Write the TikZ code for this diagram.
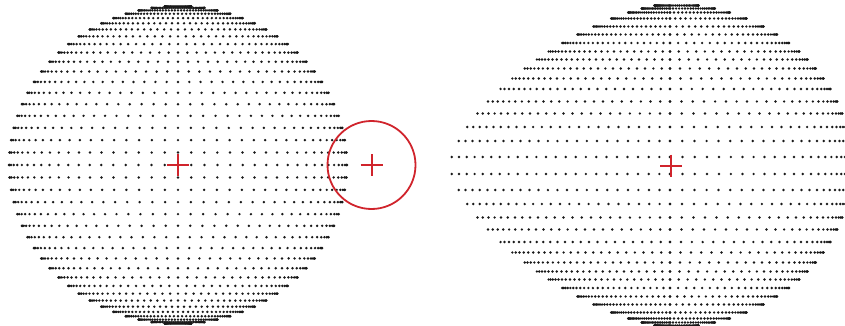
\documentclass[tikz,border=0pt]{standalone}
\usepackage{tikz}

\definecolor{markred}{RGB}{208,36,44}
\tikzset{
    dot/.style={fill=black!90},
    cross/.style={draw=markred, line width=2pt},
}

\begin{document}
\begin{tikzpicture}[x=1pt, y=-1pt]
\useasboundingbox (0,0) rectangle (845,326);
\clip (0,0) rectangle (845,326);

\coordinate (lc) at (178,165);
\coordinate (hole) at (371.5,165);
\coordinate (rc) at (671,165.5);

\begin{scope}[shift={(178,165)}]

    \foreach \k in {-19,...,19} {
        \pgfmathsetmacro\rowy{-159*sin(4.5*\k)}
        \pgfmathsetmacro\roww{169*cos(4.5*\k)}
        \foreach \j in {-20,...,20}
            \fill[dot] ({\roww*sin(4.5*\j)}, \rowy) circle[radius=1.35pt];
    }

\end{scope}

\begin{scope}[shift={(670,165.5)}]

    % left half pulled out, right half kept round
    \foreach \dy in {8.5,24.5,38.5,52,64,76.5,87,97,106,114,122.5,131,139,147,153,157,160} {
        \pgfmathsetmacro\sn{\dy/162}
        \pgfmathsetmacro\rw{182*sqrt(1-\sn*\sn)}
        \pgfmathsetmacro\lw{220*(1-\sn^1.5)^(2/3)}
        \pgfmathsetmacro\bend{0.5+0.5*\sn}
        \foreach \sy in {-1,1} {
            \foreach \j in {0,...,23} {
                \fill[dot] ({\rw*sin(\j*90/23)}, {\sy*\dy}) circle[radius=1.35pt];
                \fill[dot] ({-\lw*sin(\bend*\j*90/23)/sin(\bend*90)}, {\sy*\dy}) circle[radius=1.35pt];
            }
        }
    }

\end{scope}

\draw[cross] (lc) ++(-11,0) -- ++(22,0) (lc) ++(0,-11) -- ++(0,22);
\draw[cross] (hole) ++(-11,0) -- ++(22,0) (hole) ++(0,-11) -- ++(0,22);
\draw[cross] (rc) ++(-11,0) -- ++(22,0) (rc) ++(0,-11) -- ++(0,22);
\draw[cross, line width=1.8pt] (hole) circle[radius=44pt];

\end{tikzpicture}
\end{document}
